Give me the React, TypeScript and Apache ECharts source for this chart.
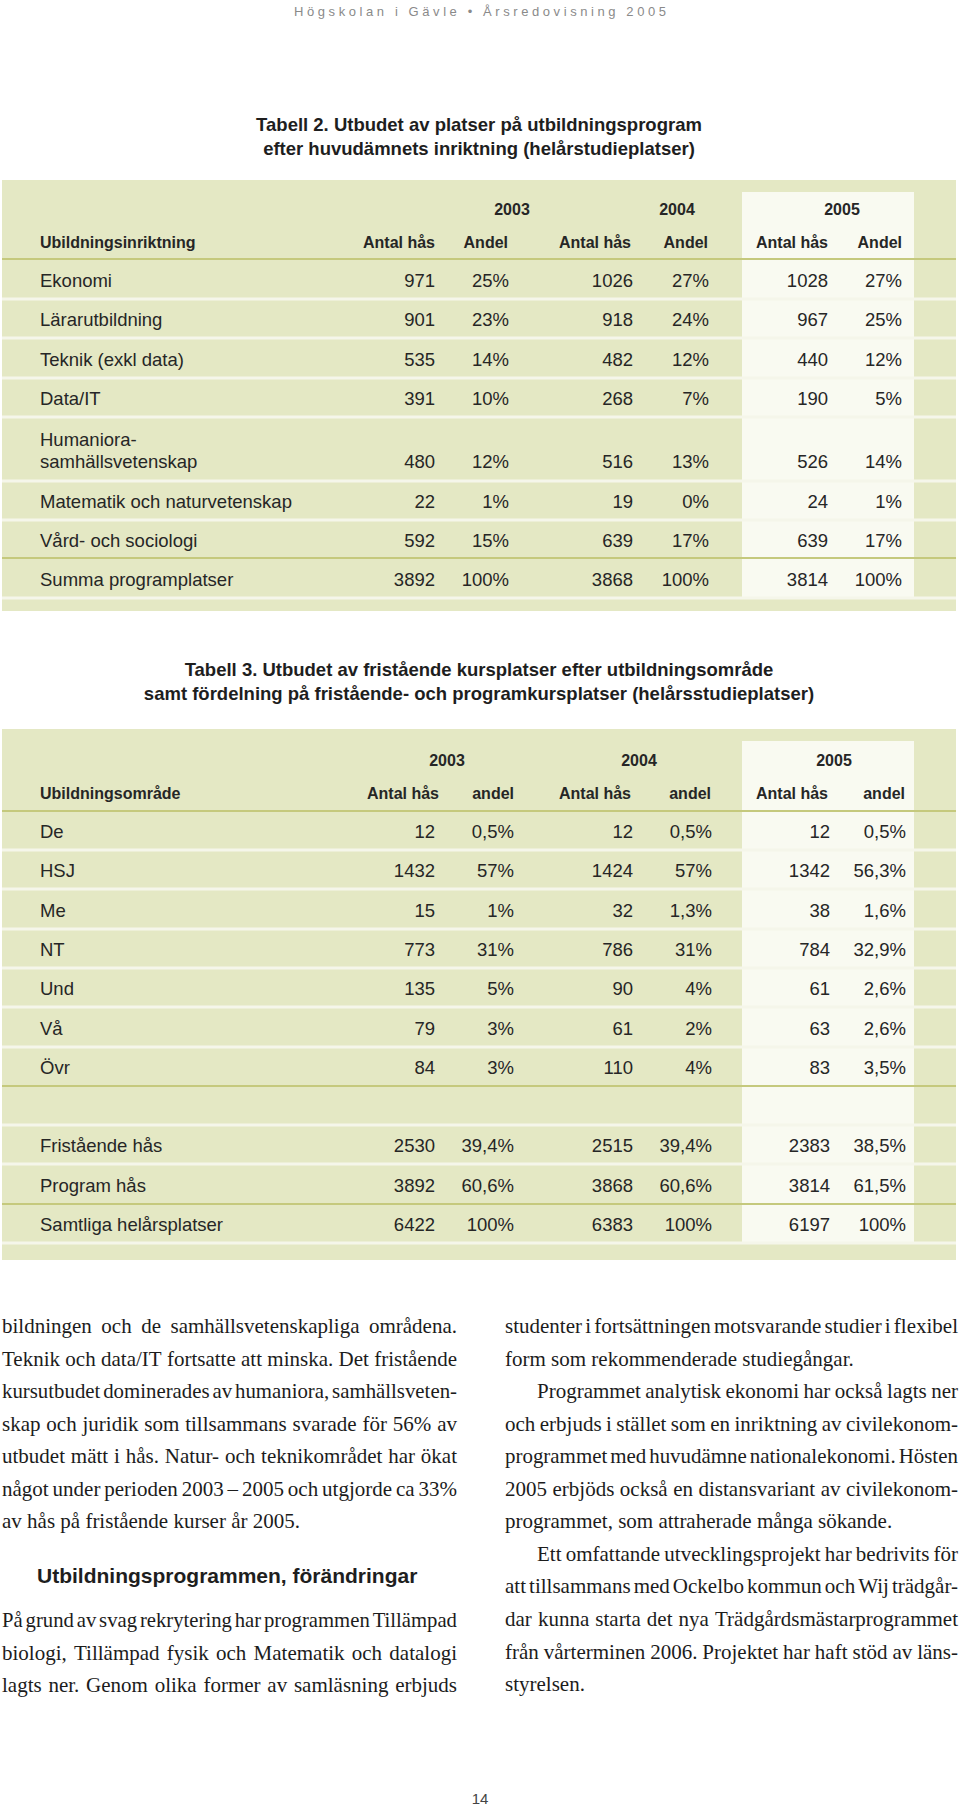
import React, { useEffect, useRef } from 'react';
import * as echarts from 'echarts';

// ---------------- DATA ----------------
const pageHeader = 'Högskolan i Gävle • Årsredovisning 2005';
const pageNumber = '14';
const years = ['2003', '2004', '2005'];

const t2Title = [
  'Tabell 2. Utbudet av platser på utbildningsprogram',
  'efter huvudämnets inriktning (helårstudieplatser)',
];
const t2CategoryHeader = 'Ubildningsinriktning';
const t2ColHeaders = ['Antal hås', 'Andel', 'Antal hås', 'Andel', 'Antal hås', 'Andel'];
const t2Categories = [
  'Ekonomi',
  'Lärarutbildning',
  'Teknik (exkl data)',
  'Data/IT',
  'Humaniora-\nsamhällsvetenskap',
  'Matematik och naturvetenskap',
  'Vård- och sociologi',
  'Summa programplatser',
];
const t2Antal2003 = [971, 901, 535, 391, 480, 22, 592, 3892];
const t2Andel2003 = ['25%', '23%', '14%', '10%', '12%', '1%', '15%', '100%'];
const t2Antal2004 = [1026, 918, 482, 268, 516, 19, 639, 3868];
const t2Andel2004 = ['27%', '24%', '12%', '7%', '13%', '0%', '17%', '100%'];
const t2Antal2005 = [1028, 967, 440, 190, 526, 24, 639, 3814];
const t2Andel2005 = ['27%', '25%', '12%', '5%', '14%', '1%', '17%', '100%'];

const t3Title = [
  'Tabell 3. Utbudet av fristående kursplatser efter utbildningsområde',
  'samt fördelning på fristående- och programkursplatser (helårsstudieplatser)',
];
const t3CategoryHeader = 'Ubildningsområde';
const t3ColHeaders = ['Antal hås', 'andel', 'Antal hås', 'andel', 'Antal hås', 'andel'];
const t3Areas = ['De', 'HSJ', 'Me', 'NT', 'Und', 'Vå', 'Övr'];
const t3Antal2003 = [12, 1432, 15, 773, 135, 79, 84];
const t3Andel2003 = ['0,5%', '57%', '1%', '31%', '5%', '3%', '3%'];
const t3Antal2004 = [12, 1424, 32, 786, 90, 61, 110];
const t3Andel2004 = ['0,5%', '57%', '1,3%', '31%', '4%', '2%', '4%'];
const t3Antal2005 = [12, 1342, 38, 784, 61, 63, 83];
const t3Andel2005 = ['0,5%', '56,3%', '1,6%', '32,9%', '2,6%', '2,6%', '3,5%'];
const t3SumLabels = ['Fristående hås', 'Program hås', 'Samtliga helårsplatser'];
const t3SumAntal2003 = [2530, 3892, 6422];
const t3SumAndel2003 = ['39,4%', '60,6%', '100%'];
const t3SumAntal2004 = [2515, 3868, 6383];
const t3SumAndel2004 = ['39,4%', '60,6%', '100%'];
const t3SumAntal2005 = [2383, 3814, 6197];
const t3SumAndel2005 = ['38,5%', '61,5%', '100%'];

const leftParagraphs = [
  {
    indent: false,
    ends: true,
    lines: [
      'bildningen och de samhällsvetenskapliga områdena.',
      'Teknik och data/IT fortsatte att minska. Det fristående',
      'kursutbudet dominerades av humaniora, samhällsveten-',
      'skap och juridik som tillsammans svarade för 56% av',
      'utbudet mätt i hås. Natur- och teknikområdet har ökat',
      'något under perioden 2003 – 2005 och utgjorde ca 33%',
      'av hås på fristående kurser år 2005.',
    ],
  },
];
const sectionHeading = 'Utbildningsprogrammen, förändringar';
const leftParagraphs2 = [
  {
    indent: false,
    ends: false,
    lines: [
      'På grund av svag rekrytering har programmen Tillämpad',
      'biologi, Tillämpad fysik och Matematik och datalogi',
      'lagts ner. Genom olika former av samläsning erbjuds',
    ],
  },
];
const rightParagraphs = [
  {
    indent: false,
    ends: true,
    lines: [
      'studenter i fortsättningen motsvarande studier i flexibel',
      'form som rekommenderade studiegångar.',
    ],
  },
  {
    indent: true,
    ends: true,
    lines: [
      'Programmet analytisk ekonomi har också lagts ner',
      'och erbjuds i stället som en inriktning av civilekonom-',
      'programmet med huvudämne nationalekonomi. Hösten',
      '2005 erbjöds också en distansvariant av civilekonom-',
      'programmet, som attraherade många sökande.',
    ],
  },
  {
    indent: true,
    ends: true,
    lines: [
      'Ett omfattande utvecklingsprojekt har bedrivits för',
      'att tillsammans med Ockelbo kommun och Wij trädgår-',
      'dar kunna starta det nya Trädgårdsmästarprogrammet',
      'från vårterminen 2006. Projektet har haft stöd av läns-',
      'styrelsen.',
    ],
  },
];

// ---------------- STYLE / LAYOUT ----------------
const SANS = "'Liberation Sans', Arial, Helvetica, sans-serif";
const SERIF = "'Liberation Serif', 'Times New Roman', serif";
const BG = '#e4e8c4';
const COL_HL = '#f9faf1';
const OLIVE = '#c5c97d';
const SEP = '#f5f6ea';
const INK = '#262626';

let measureCtx: CanvasRenderingContext2D | null = null;
function measure(text: string, font: string): number {
  if (!measureCtx) measureCtx = document.createElement('canvas').getContext('2d');
  if (!measureCtx) return text.length * 8;
  measureCtx.font = font;
  return measureCtx.measureText(text).width;
}

type TOpts = { weight?: string; align?: string; family?: string; color?: string; scaleX?: number };
function T(x: number, y: number, text: string, size: number, o: TOpts = {}) {
  const font = `${o.weight || 'normal'} ${size}px ${o.family || SANS}`;
  return {
    type: 'text',
    x,
    y,
    scaleX: o.scaleX ?? 1,
    silent: true,
    style: {
      text,
      font,
      fill: o.color || INK,
      textAlign: o.align || 'left',
      textVerticalAlign: 'middle',
    },
  };
}
function R(x: number, y: number, w: number, h: number, fill: string) {
  return { type: 'rect', silent: true, shape: { x, y, width: w, height: h }, style: { fill } };
}

function buildLine(text: string, x0: number, x1: number, y: number, justify: boolean, size: number): any[] {
  const font = `normal ${size}px ${SERIF}`;
  const words = text.split(' ');
  const widths = words.map((w) => measure(w, font));
  const sum = widths.reduce((a, b) => a + b, 0);
  const space = measure(' ', font);
  const avail = x1 - x0;
  const n = words.length;
  let scale = 1;
  const minTotal = sum + space * 0.55 * (n - 1);
  if (minTotal > avail) scale = avail / minTotal;
  let gap = space * scale;
  if (justify && n > 1) gap = (avail - sum * scale) / (n - 1);
  const out: any[] = [];
  let x = x0;
  words.forEach((w, i) => {
    out.push(T(x, y, w, size, { family: SERIF, color: '#1c1c1c', scaleX: scale }));
    x += widths[i] * scale + gap;
  });
  return out;
}

function buildParagraphs(paras: any[], x0: number, x1: number, yStart: number, pitch: number, size: number) {
  const out: any[] = [];
  let li = 0;
  paras.forEach((p) => {
    p.lines.forEach((line: string, i: number) => {
      const last = i === p.lines.length - 1 && p.ends;
      const ind = p.indent && i === 0 ? 32 : 0;
      out.push(...buildLine(line, x0 + ind, x1, yStart + li * pitch, !last, size));
      li++;
    });
  });
  return out;
}

function buildTable2(): any[] {
  const els: any[] = [];
  const left = 2, right = 956;
  els.push(R(left, 180, right - left, 431, BG));
  els.push(R(742, 192, 172, 406, COL_HL));
  const yearX = [512, 677, 842];
  years.forEach((yr, i) => els.push(T(yearX[i], 209, yr, 16, { weight: 'bold', align: 'center' })));
  const hdrRight = [435, 508, 631, 708, 828, 902];
  els.push(T(40, 242, t2CategoryHeader, 16, { weight: 'bold' }));
  t2ColHeaders.forEach((h, i) => els.push(T(hdrRight[i], 242, h, 16, { weight: 'bold', align: 'right' })));
  els.push(R(left, 258, right - left, 2, OLIVE));
  const heights = [40, 39, 40, 39, 64, 39, 38, 40];
  const valRight = [435, 509, 633, 709, 828, 902];
  const cols = [t2Antal2003, t2Andel2003, t2Antal2004, t2Andel2004, t2Antal2005, t2Andel2005];
  let y = 259;
  t2Categories.forEach((cat, i) => {
    const h = heights[i];
    const c = y + h / 2 + 1;
    const parts = cat.split('\n');
    let vy = c;
    if (parts.length > 1) {
      els.push(T(40, c - 11, parts[0], 18.5));
      els.push(T(40, c + 11, parts[1], 18.5));
      vy = c + 11;
    } else {
      els.push(T(40, c, cat, 18.5));
    }
    cols.forEach((col, k) => els.push(T(valRight[k], vy, String(col[i]), 18.5, { align: 'right' })));
    y += h;
    if (i === 6) els.push(R(left, y - 1, right - left, 2, OLIVE));
    else els.push(R(left, y - 1.5, right - left, 3, SEP));
  });
  return els;
}

function buildTable3(): any[] {
  const els: any[] = [];
  const left = 2, right = 956;
  els.push(R(left, 729, right - left, 531, BG));
  els.push(R(742, 741, 172, 502, COL_HL));
  const yearX = [447, 639, 834];
  years.forEach((yr, i) => els.push(T(yearX[i], 760, yr, 16, { weight: 'bold', align: 'center' })));
  const hdrRight = [439, 514, 631, 711, 828, 905];
  els.push(T(40, 793, t3CategoryHeader, 16, { weight: 'bold' }));
  t3ColHeaders.forEach((h, i) => els.push(T(hdrRight[i], 793, h, 16, { weight: 'bold', align: 'right' })));
  els.push(R(left, 810, right - left, 2, OLIVE));
  const valRight = [435, 514, 633, 712, 830, 906];
  const heights = [39, 39, 40, 39, 39, 40, 39];
  const cols = [t3Antal2003, t3Andel2003, t3Antal2004, t3Andel2004, t3Antal2005, t3Andel2005];
  let y = 811;
  t3Areas.forEach((a, i) => {
    const h = heights[i];
    const c = y + h / 2 + 1;
    els.push(T(40, c, a, 18.5));
    cols.forEach((col, k) => els.push(T(valRight[k], c, String(col[i]), 18.5, { align: 'right' })));
    y += h;
    if (i === t3Areas.length - 1) els.push(R(left, y - 1, right - left, 2, OLIVE));
    else els.push(R(left, y - 1.5, right - left, 3, SEP));
  });
  // empty row
  y += 39;
  els.push(R(left, y - 1.5, right - left, 3, SEP));
  const sHeights = [39, 40, 39];
  const sCols = [t3SumAntal2003, t3SumAndel2003, t3SumAntal2004, t3SumAndel2004, t3SumAntal2005, t3SumAndel2005];
  t3SumLabels.forEach((lab, i) => {
    const h = sHeights[i];
    const c = y + h / 2 + 1;
    els.push(T(40, c, lab, 18.5));
    sCols.forEach((col, k) => els.push(T(valRight[k], c, String(col[i]), 18.5, { align: 'right' })));
    y += h;
    if (i === 1) els.push(R(left, y - 1, right - left, 2, OLIVE));
    else els.push(R(left, y - 1.5, right - left, 3, SEP));
  });
  return els;
}

function buildHeader(): any[] {
  const els: any[] = [];
  const size = 13;
  const font = `normal ${size}px ${SANS}`;
  const chars = Array.from(pageHeader);
  const widths = chars.map((ch) => measure(ch, font));
  const sum = widths.reduce((a, b) => a + b, 0);
  const x0 = 294, x1 = 666;
  const sp = (x1 - x0 - sum) / (chars.length - 1);
  let x = x0;
  chars.forEach((ch, i) => {
    if (ch !== ' ') els.push(T(x, 11, ch, size, { color: '#8a8a8a' }));
    x += widths[i] + sp;
  });
  return els;
}

function buildAll(): any[] {
  const els: any[] = [];
  els.push(...buildHeader());
  t2Title.forEach((t, i) => els.push(T(479, 124 + i * 24, t, 18.5, { weight: 'bold', align: 'center', color: '#1e1e1e' })));
  els.push(...buildTable2());
  t3Title.forEach((t, i) => els.push(T(479, 669 + i * 24, t, 18.5, { weight: 'bold', align: 'center', color: '#1e1e1e' })));
  els.push(...buildTable3());
  const pitch = 32.55;
  els.push(...buildParagraphs(leftParagraphs, 2, 457, 1326, pitch, 21));
  els.push(T(37, 1575, sectionHeading, 21, { weight: 'bold', color: '#1e1e1e' }));
  els.push(...buildParagraphs(leftParagraphs2, 2, 457, 1620, pitch, 21));
  els.push(...buildParagraphs(rightParagraphs, 505, 958, 1326, pitch, 21));
  els.push(T(480, 1798, pageNumber, 15, { align: 'center', color: '#444' }));
  return els;
}

export default function App() {
  const ref = useRef<HTMLDivElement>(null);
  useEffect(() => {
    if (!ref.current) return;
    const chart = echarts.init(ref.current, undefined, { renderer: 'svg' });
    chart.setOption({
      animation: false,
      backgroundColor: '#ffffff',
      graphic: { elements: buildAll() },
    });
    return () => chart.dispose();
  }, []);
  return (
    <div
      ref={ref}
      style={{ position: 'absolute', left: 0, top: 0, width: 960, height: 1808, background: '#fff' }}
    />
  );
}
